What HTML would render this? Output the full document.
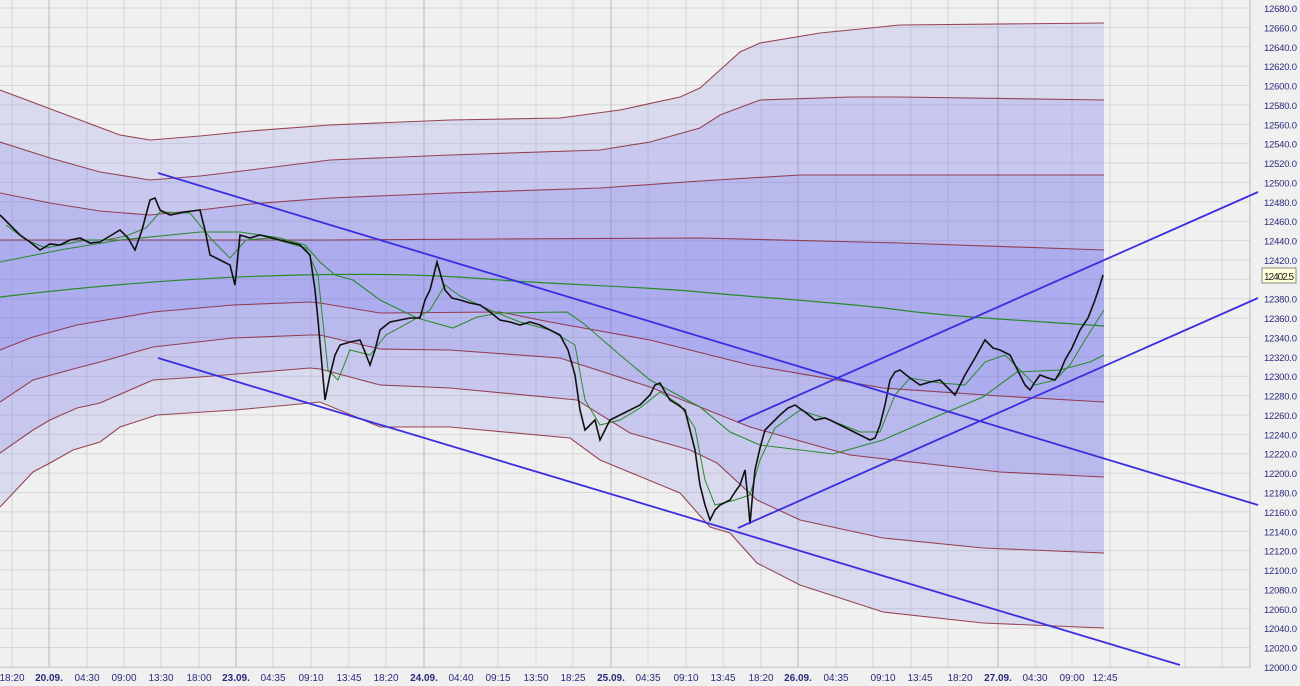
<!DOCTYPE html>
<html><head><meta charset="utf-8"><style>
body{margin:0;background:#f0f0f0;}
svg{display:block;font-family:"Liberation Sans",sans-serif;}
</style></head><body>
<svg width="1300" height="686" viewBox="0 0 1300 686">
<rect width="1300" height="686" fill="#f0f0f0"/>
<g stroke="#d6d6d6" stroke-width="1">
<path d="M0 8H1250M0 27.4H1250M0 46.8H1250M0 66.1H1250M0 85.5H1250M0 104.9H1250M0 124.3H1250M0 143.7H1250M0 163H1250M0 182.4H1250M0 201.8H1250M0 221.2H1250M0 240.6H1250M0 259.9H1250M0 279.3H1250M0 298.7H1250M0 318.1H1250M0 337.5H1250M0 356.8H1250M0 376.2H1250M0 395.6H1250M0 415H1250M0 434.4H1250M0 453.7H1250M0 473.1H1250M0 492.5H1250M0 511.9H1250M0 531.3H1250M0 550.6H1250M0 570H1250M0 589.4H1250M0 608.8H1250M0 628.2H1250M0 647.5H1250M0 667H1250"/>
<path d="M12 0V668M87 0V668M124 0V668M161 0V668M199 0V668M273 0V668M311 0V668M349 0V668M386 0V668M461 0V668M498 0V668M536 0V668M573 0V668M648 0V668M686 0V668M723 0V668M761 0V668M836 0V668M873 0V668M911 0V668M948 0V668M1035 0V668M1072 0V668M1110 0V668M1148 0V668M1185 0V668M1222 0V668"/>
</g>
<g stroke="#b8b8b8"><path d="M49 0V668M236 0V668M424 0V668M611 0V668M798 0V668M998 0V668M1250 0V668"/></g>
<!-- band fills -->
<g fill="rgb(110,110,240)" fill-opacity="0.17" stroke="none">
<polygon points="0,90 40,105 80,120 120,135 150,140 200,136 250,131 330,125 450,120 560,118 620,110 680,97 700,88 720,70 740,52 760,43 820,33 900,25 1104,23 1104,628 983,623 883,612 800,585 757,563 730,533 710,527 680,493 600,460 570,438 450,427 380,427 320,402 300,404 235,410 157,415 120,427 100,442 73,450 50,463 33,472 0,507"/>
<polygon points="0,142 50,158 100,172 150,180 200,176 250,170 330,160 450,155 600,150 650,142 700,128 720,115 760,100 850,97 900,97 1104,100 1104,553 983,548 883,538 800,520 757,500 717,463 690,450 630,433 577,400 450,388 380,385 320,369 310,368 200,377 153,380 100,403 77,408 50,420 33,430 0,453"/>
<polygon points="0,193 50,203 100,211 150,215 200,210 250,204 330,198 450,193 600,188 700,181 800,175 1104,175 1104,477 1000,472 850,455 750,427 650,387 560,358 450,350 380,349 320,335 310,335 233,338 153,347 100,362 77,368 33,380 0,402"/>
<polygon points="0,240 330,240 500,239 700,238 900,243 1104,250 1104,402 1000,396 883,388 750,365 650,340 550,322 500,312 380,313 320,303 310,302 233,305 153,312 77,325 33,337 0,350"/>
</g>
<g fill="none" stroke="#8a2838" stroke-width="1.1" stroke-opacity="0.85">
<polyline points="0,90 40,105 80,120 120,135 150,140 200,136 250,131 330,125 450,120 560,118 620,110 680,97 700,88 720,70 740,52 760,43 820,33 900,25 1104,23"/>
<polyline points="0,142 50,158 100,172 150,180 200,176 250,170 330,160 450,155 600,150 650,142 700,128 720,115 760,100 850,97 900,97 1104,100"/>
<polyline points="0,193 50,203 100,211 150,215 200,210 250,204 330,198 450,193 600,188 700,181 800,175 1104,175"/>
<polyline points="0,240 330,240 500,239 700,238 900,243 1104,250"/>
<polyline points="0,350 33,337 77,325 153,312 233,305 310,302 320,303 380,313 500,312 550,322 650,340 750,365 883,388 1000,396 1104,402"/>
<polyline points="0,402 33,380 77,368 100,362 153,347 233,338 310,335 320,335 380,349 450,350 560,358 650,387 750,427 850,455 1000,472 1104,477"/>
<polyline points="0,453 33,430 50,420 77,408 100,403 153,380 200,377 310,368 320,369 380,385 450,388 577,400 630,433 690,450 717,463 757,500 800,520 883,538 983,548 1104,553"/>
<polyline points="0,507 33,472 50,463 73,450 100,442 120,427 157,415 235,410 300,404 320,402 380,427 450,427 570,438 600,460 680,493 710,527 730,533 757,563 800,585 883,612 983,623 1104,628"/>
</g>
<!-- MAs -->
<path d="M0 297C100 285 200 277 300 275S450 276 500 280S650 287 700 292S850 303 900 310S1050 322 1104 326" fill="none" stroke="#2a8a2a" stroke-width="1.2"/>
<polyline fill="none" stroke="#2a8a2a" stroke-width="1.1" points="0,262 60,250 120,240 200,232 240,232 280,238 305,245 320,262 335,275 353,280 380,300 417,318 453,328 477,317 500,313 567,312 583,323 620,355 650,380 700,407 730,432 760,445 833,454 883,440 940,415 983,397 1017,372 1060,370 1090,362 1104,355"/>
<polyline fill="none" stroke="#2a8a2a" stroke-width="1" points="6,225 26,240 46,248 66,244 86,240 106,240 126,236 146,228 160,212 190,213 212,240 230,258 246,240 270,238 306,248 318,275 328,370 338,380 350,350 370,355 386,335 410,322 430,310 445,285 460,296 490,310 520,322 550,330 575,345 585,400 600,425 620,420 640,408 660,392 680,405 695,428 705,480 715,505 735,500 750,495 760,460 775,428 800,410 830,420 860,432 880,432 895,395 910,378 940,383 965,385 985,362 1005,355 1020,370 1035,385 1055,380 1070,365 1085,340 1104,310"/>
<!-- price -->
<polyline fill="none" stroke="#111" stroke-width="1.6" points="0,215 10,225 20,235 30,242 40,250 50,244 60,245 70,240 80,238 90,243 100,242 110,236 120,230 128,238 135,250 142,230 150,200 155,198 160,210 170,215 185,212 200,210 205,230 210,255 220,260 230,265 235,285 240,235 250,238 260,235 280,240 300,245 310,255 315,290 318,320 325,400 330,375 335,355 340,345 350,342 360,340 365,352 370,365 375,350 380,330 390,322 400,320 410,318 420,318 425,300 430,290 437,262 445,290 452,298 460,300 470,303 480,305 490,312 500,320 510,322 520,325 530,322 540,325 550,330 560,335 568,350 575,375 580,410 585,430 590,425 595,420 600,440 605,430 610,420 620,415 630,410 640,405 650,395 655,385 660,383 665,392 670,400 678,405 685,410 690,430 695,450 700,485 705,505 710,520 715,510 720,505 730,500 735,492 740,485 745,470 748,500 750,524 753,490 755,470 760,448 765,430 770,425 780,415 788,408 795,405 805,412 815,420 825,418 830,420 840,425 850,430 860,435 870,440 875,438 880,425 885,405 890,380 895,372 900,370 910,378 920,385 930,382 940,380 948,388 955,395 960,385 965,375 975,358 985,340 993,348 1000,350 1010,355 1015,365 1020,375 1025,385 1030,390 1035,382 1040,375 1048,378 1055,380 1060,372 1065,360 1072,348 1080,330 1088,318 1095,300 1100,285 1103,275"/>
<!-- trend lines -->
<g stroke="#3a2ee0" stroke-width="1.8">
<line x1="158" y1="173" x2="1258" y2="505"/>
<line x1="158" y1="358" x2="1180" y2="665"/>
<line x1="738" y1="422" x2="1258" y2="192"/>
<line x1="738" y1="528" x2="1258" y2="298"/>
</g>
<rect x="0" y="668" width="1300" height="18" fill="#f0f0f0"/>
<line x1="0" y1="667.5" x2="1250" y2="667.5" stroke="#d0d0d0"/>
<g font-size="10" fill="#2a2a7a" text-anchor="middle">
<text x="12" y="681">18:20</text><text x="49" y="681" font-weight="bold">20.09.</text><text x="87" y="681">04:30</text><text x="124" y="681">09:00</text><text x="161" y="681">13:30</text><text x="199" y="681">18:00</text><text x="236" y="681" font-weight="bold">23.09.</text><text x="273" y="681">04:35</text><text x="311" y="681">09:10</text><text x="349" y="681">13:45</text><text x="386" y="681">18:20</text><text x="424" y="681" font-weight="bold">24.09.</text><text x="461" y="681">04:40</text><text x="498" y="681">09:15</text><text x="536" y="681">13:50</text><text x="573" y="681">18:25</text><text x="611" y="681" font-weight="bold">25.09.</text><text x="648" y="681">04:35</text><text x="686" y="681">09:10</text><text x="723" y="681">13:45</text><text x="761" y="681">18:20</text><text x="798" y="681" font-weight="bold">26.09.</text><text x="836" y="681">04:35</text><text x="883" y="681">09:10</text><text x="920" y="681">13:45</text><text x="960" y="681">18:20</text><text x="998" y="681" font-weight="bold">27.09.</text><text x="1035" y="681">04:30</text><text x="1072" y="681">09:00</text><text x="1105" y="681">12:45</text>
</g>
<g font-size="9.5" fill="#2a2a7a">
<text x="1264" y="12" textLength="33">12680.0</text><text x="1264" y="31.4" textLength="33">12660.0</text><text x="1264" y="50.8" textLength="33">12640.0</text><text x="1264" y="70.1" textLength="33">12620.0</text><text x="1264" y="89.5" textLength="33">12600.0</text><text x="1264" y="108.9" textLength="33">12580.0</text><text x="1264" y="128.3" textLength="33">12560.0</text><text x="1264" y="147.7" textLength="33">12540.0</text><text x="1264" y="167" textLength="33">12520.0</text><text x="1264" y="186.4" textLength="33">12500.0</text><text x="1264" y="205.8" textLength="33">12480.0</text><text x="1264" y="225.2" textLength="33">12460.0</text><text x="1264" y="244.6" textLength="33">12440.0</text><text x="1264" y="263.9" textLength="33">12420.0</text><text x="1264" y="302.7" textLength="33">12380.0</text><text x="1264" y="322.1" textLength="33">12360.0</text><text x="1264" y="341.5" textLength="33">12340.0</text><text x="1264" y="360.8" textLength="33">12320.0</text><text x="1264" y="380.2" textLength="33">12300.0</text><text x="1264" y="399.6" textLength="33">12280.0</text><text x="1264" y="419" textLength="33">12260.0</text><text x="1264" y="438.4" textLength="33">12240.0</text><text x="1264" y="457.7" textLength="33">12220.0</text><text x="1264" y="477.1" textLength="33">12200.0</text><text x="1264" y="496.5" textLength="33">12180.0</text><text x="1264" y="515.9" textLength="33">12160.0</text><text x="1264" y="535.3" textLength="33">12140.0</text><text x="1264" y="554.6" textLength="33">12120.0</text><text x="1264" y="574" textLength="33">12100.0</text><text x="1264" y="593.4" textLength="33">12080.0</text><text x="1264" y="612.8" textLength="33">12060.0</text><text x="1264" y="632.2" textLength="33">12040.0</text><text x="1264" y="651.5" textLength="33">12020.0</text><text x="1264" y="671" textLength="33">12000.0</text>
</g>
<rect x="1262" y="268" width="34" height="15" fill="#ffffd8" stroke="#888"/>
<text x="1264" y="280" font-size="10" fill="#222" textLength="30">12402.5</text>
</svg>
</body></html>
